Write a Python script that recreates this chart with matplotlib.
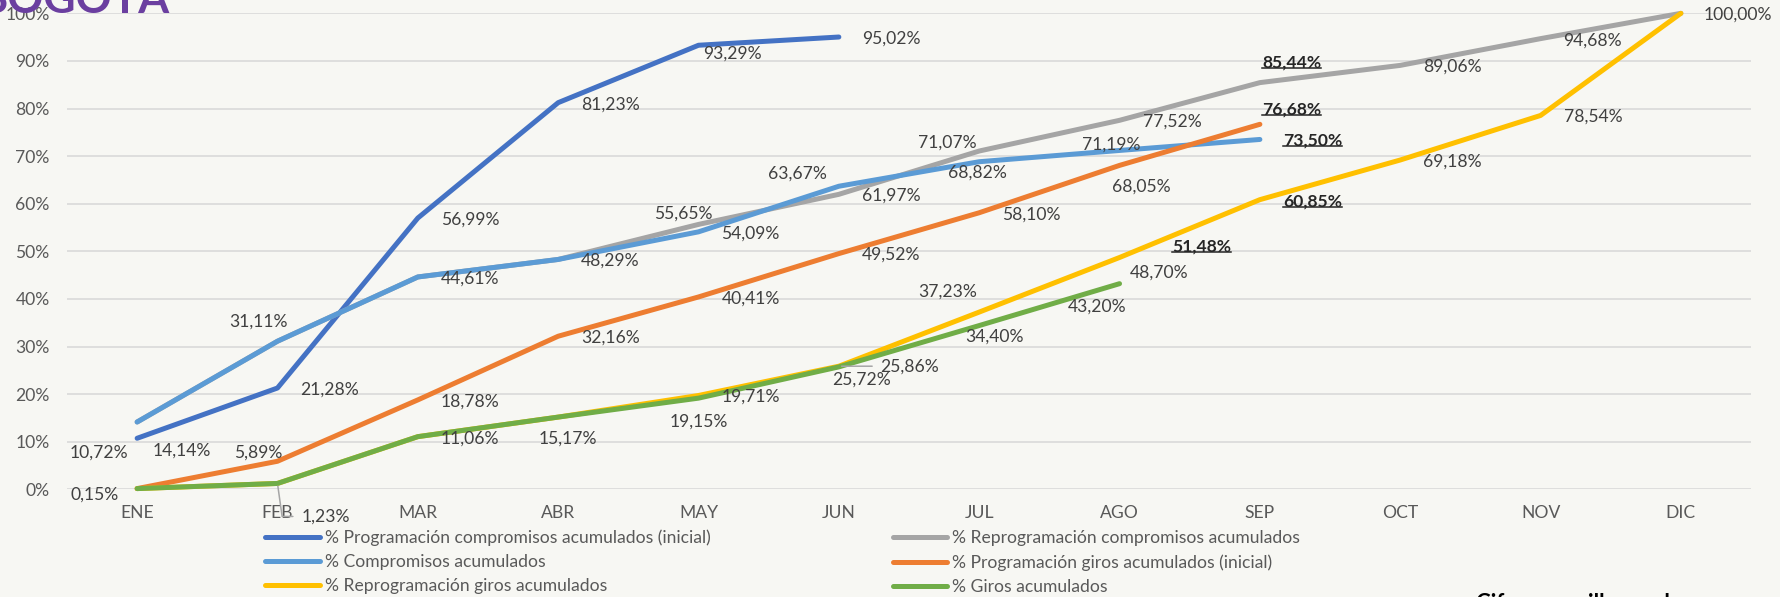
import matplotlib
matplotlib.use('Agg')
import matplotlib.pyplot as plt
from matplotlib.lines import Line2D
from matplotlib.ticker import FuncFormatter

plt.rcParams['font.family'] = ['Lato', 'DejaVu Sans']

# data (percent)
months = ['ENE', 'FEB', 'MAR', 'ABR', 'MAY', 'JUN', 'JUL', 'AGO', 'SEP', 'OCT', 'NOV', 'DIC']
prog_comp = [10.72, 21.28, 56.99, 81.23, 93.29, 95.02]
reprog_comp = [14.14, 31.11, 44.61, 48.29, 55.65, 61.97, 71.07, 77.52, 85.44, 89.06, 94.68, 100.00]
compromisos = [14.14, 31.11, 44.61, 48.29, 54.09, 63.67, 68.82, 71.19, 73.50]
prog_giros = [0.15, 5.89, 18.78, 32.16, 40.41, 49.52, 58.10, 68.05, 76.68]
reprog_giros = [0.15, 1.23, 11.06, 15.17, 19.71, 25.86, 37.23, 48.70, 60.85, 69.18, 78.54, 100.00]
giros = [0.15, 1.23, 11.06, 15.17, 19.15, 25.72, 34.40, 43.20]
meta_giros = 51.48

series = {
    'pc': ('% Programación compromisos acumulados (inicial)', prog_comp, '#4472C4'),
    'rc': ('% Reprogramación compromisos acumulados', reprog_comp, '#A5A5A5'),
    'c': ('% Compromisos acumulados', compromisos, '#5B9BD5'),
    'pg': ('% Programación giros acumulados (inicial)', prog_giros, '#ED7D31'),
    'rg': ('% Reprogramación giros acumulados', reprog_giros, '#FFC000'),
    'g': ('% Giros acumulados', giros, '#70AD47'),
}

# label placement: 'r' = right of point, else (dx, dy) pixel offset of centre (dy down)
labels = [
    ('pc', 0, (-38, 14)), ('pc', 1, 'r'), ('pc', 2, 'r'), ('pc', 3, 'r'), ('pc', 4, (34, 8)), ('pc', 5, 'r'),
    ('c', 0, (45, 29)), ('c', 1, (-19, -20)), ('c', 2, 'r'), ('c', 3, 'r'), ('c', 4, 'r'),
    ('c', 5, (-41, -13)), ('c', 6, (-2, 11)), ('c', 7, (-8, -6)), ('c', 8, 'r'),
    ('rc', 4, (-15, -11)), ('rc', 5, 'r'), ('rc', 6, (-32, -8)), ('rc', 7, 'r'), ('rc', 8, (32, -20)),
    ('rc', 9, 'r'), ('rc', 10, 'r'), ('rc', 11, 'r'),
    ('pg', 0, (-43, 6)), ('pg', 1, (-19, -9)), ('pg', 2, 'r'), ('pg', 3, 'r'), ('pg', 4, 'r'), ('pg', 5, 'r'),
    ('pg', 6, 'r'), ('pg', 7, (22, 21)), ('pg', 8, (32, -15)),
    ('rg', 4, 'r'), ('rg', 5, (71, 0)), ('rg', 6, (-32, -20)), ('rg', 7, (40, 15)), ('rg', 8, 'r'),
    ('rg', 9, 'r'), ('rg', 10, 'r'),
    ('g', 1, (48, 33)), ('g', 2, 'r'), ('g', 3, (10, 22)), ('g', 4, (0, 23)), ('g', 5, (23, 13)),
    ('g', 6, (15, 11)), ('g', 7, (-22, 23)),
]
bold_labels = [('rc', 8), ('pg', 8), ('c', 8), ('rg', 8)]
leaders = [('g', 1), ('rg', 5)]

FS = 12.6


def fmt(v):
    return ('%.2f' % v).replace('.', ',') + '%'


bg = '#F7F7F3'
fig = plt.figure(figsize=(17.81, 5.97), dpi=100, facecolor=bg)
ax = fig.add_axes([0.0376, 0.1804, 0.9456, 0.7973])
ax.set_facecolor(bg)

for key in ['pc', 'rc', 'c', 'pg', 'rg', 'g']:
    name, vals, col = series[key]
    ax.plot(range(len(vals)), vals, color=col, lw=3.6, label=name,
            solid_capstyle='round', solid_joinstyle='round', clip_on=False, zorder=3)

ax.set_xlim(-0.5, 11.5)
ax.set_ylim(0, 100)
ax.set_yticks(range(0, 101, 10))
ax.yaxis.set_major_formatter(FuncFormatter(lambda v, p: '%d%%' % v))
ax.set_xticks(range(12))
ax.set_xticklabels(months)
ax.grid(axis='y', color='#D9D9D9', lw=1.2, zorder=0)
ax.set_axisbelow(True)
for s in ax.spines.values():
    s.set_visible(False)
ax.tick_params(axis='both', length=0, labelsize=FS, labelcolor='#595959')
ax.tick_params(axis='y', pad=12.5)
ax.tick_params(axis='x', pad=11.5)

bold_texts = []
for key, i, pos in labels:
    v = series[key][1][i]
    if pos == 'r':
        xytext, ha = (23, -1.5), 'left'
    else:
        xytext, ha = (pos[0], -pos[1]), 'center'
    bold = (key, i) in bold_labels
    arrow = None
    if (key, i) in leaders:
        arrow = dict(arrowstyle='-', color='#A6A6A6', lw=1.1, shrinkA=4, shrinkB=2,
                     relpos=(0, 0.5),
                     connectionstyle='angle,angleA=0,angleB=98' if key == 'g' else 'arc3')
    t = ax.annotate(fmt(v), (i, v), xytext=xytext, textcoords='offset pixels',
                    ha=ha, va='center', fontsize=FS,
                    color='#262626' if bold else '#404040',
                    fontweight='bold' if bold else 'normal',
                    arrowprops=arrow, zorder=5, annotation_clip=False)
    if bold:
        bold_texts.append(t)

t = ax.annotate(fmt(meta_giros), (7, reprog_giros[7]), xytext=(82, 11), textcoords='offset pixels',
                ha='center', va='center', fontsize=FS, color='#262626', fontweight='bold', zorder=5)
bold_texts.append(t)

# legend (Excel fills rows, matplotlib fills columns)
h, l = ax.get_legend_handles_labels()
order = [0, 2, 4, 1, 3, 5]
fig.legend([h[k] for k in order], [l[k] for k in order], ncol=2, loc='upper left',
           bbox_to_anchor=(0.149, 0.113), frameon=False, fontsize=FS, labelcolor='#595959',
           handlelength=3.1, handletextpad=0.3, columnspacing=10.4, labelspacing=0.46,
           borderpad=0, borderaxespad=0)

fig.text(-0.012, 0.978, 'BOGOTÁ', fontsize=32, fontweight='bold', color='#6B3FA0', va='baseline')
fig.text(0.829, 0.007, 'Cifras en millones de pesos', fontsize=16, fontweight='bold', color='black', va='top')

fig.canvas.draw()
W, H = fig.get_size_inches() * fig.dpi
for t in bold_texts:
    bb = t.get_window_extent()
    y = (bb.y0 + 2.5) / H
    fig.add_artist(Line2D([bb.x0 / W, bb.x1 / W], [y, y], transform=fig.transFigure,
                          color='#262626', lw=1.1))

fig.savefig('out.png', dpi=100, facecolor=bg)
